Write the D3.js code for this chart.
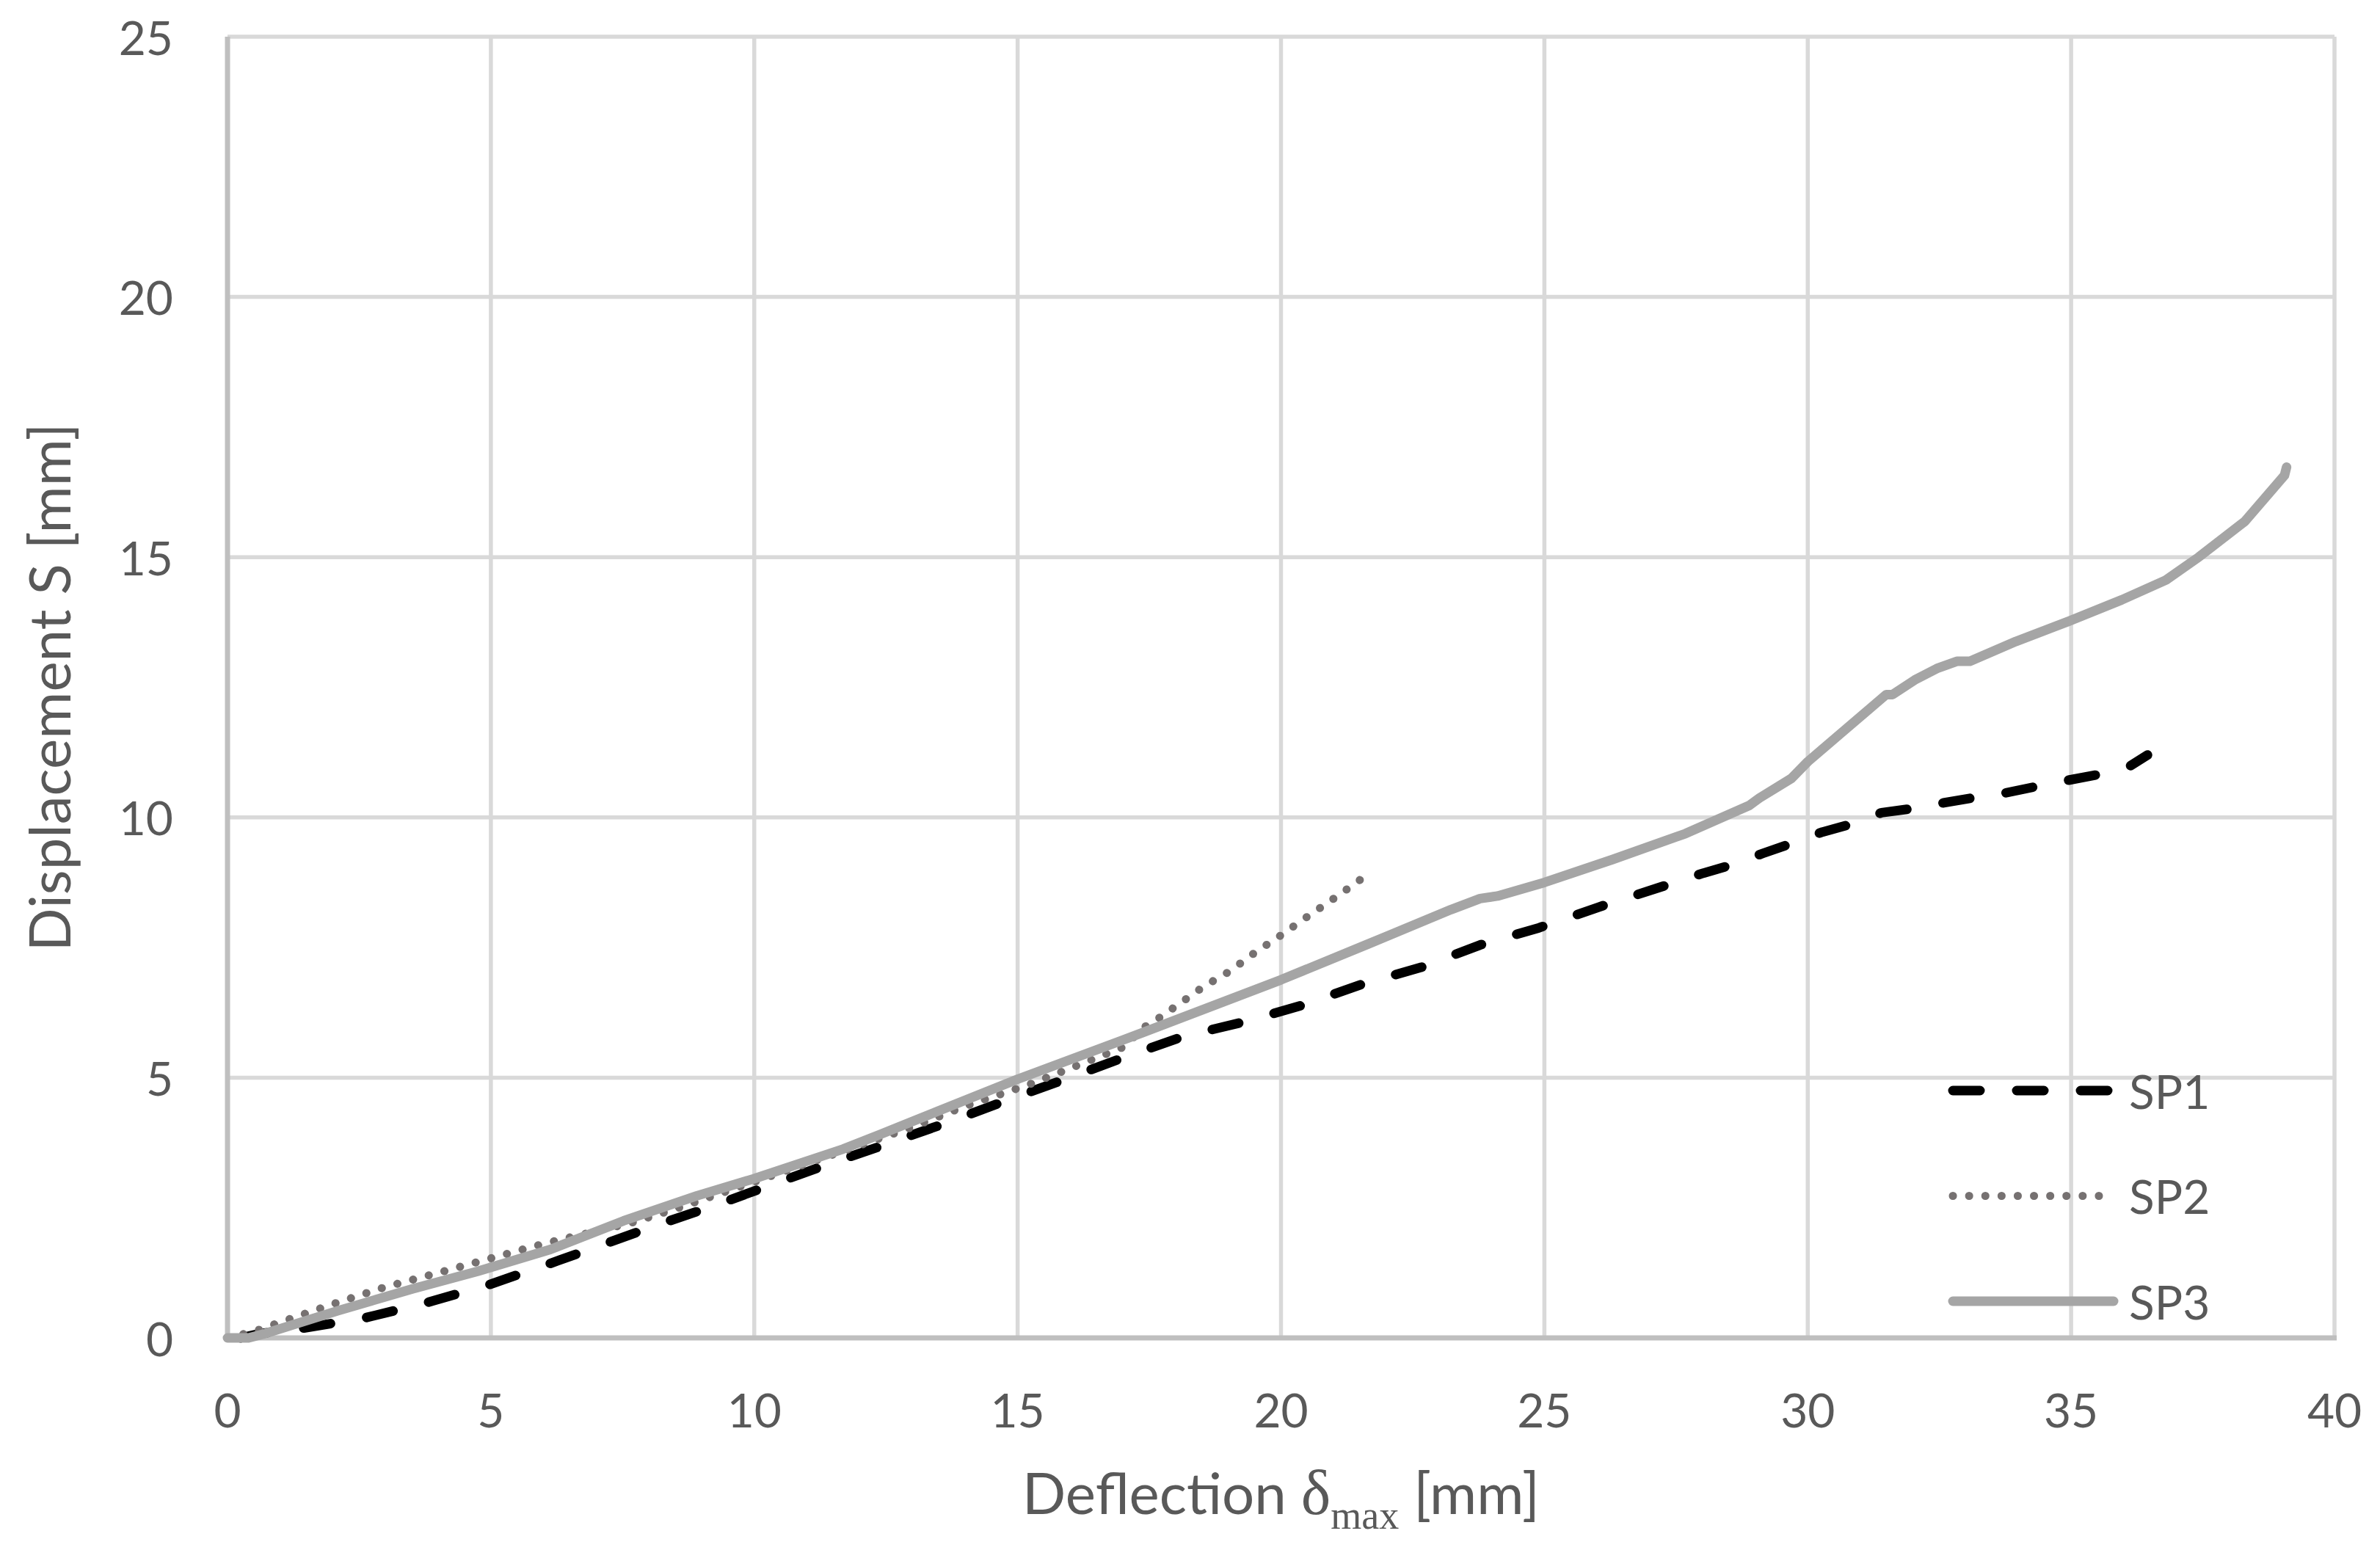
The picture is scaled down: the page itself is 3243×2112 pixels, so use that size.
<!DOCTYPE html>
<html>
  <head>
    <script src="https://d3js.org/d3.v7.min.js"></script>
    <style>
      body { margin: 0; background: #fff; }
      text { font-family: Lato, "Open Sans", sans-serif; fill: #595959; }
    </style>
  </head>
  <body>
    <svg id="chart" width="3243" height="2112"></svg>
    <script>
      // values: [deflection, displacement]
      const sp1 = [[0.25,0],[0.6,0.08],[1.45,0.19],[2.59,0.38],[3.72,0.66],[4.93,1.01],[5.93,1.36],
        [7.04,1.76],[8.13,2.16],[9.24,2.54],[10.32,2.94],[11.41,3.34],[12.5,3.72],[13.7,4.15],[14.81,4.57],
        [15.9,4.97],[17.02,5.39],[18.14,5.79],[19.29,6.07],[20.4,6.39],[21.55,6.8],[22.66,7.12],
        [23.78,7.55],[24.9,7.88],[26.04,8.28],[27.17,8.65],[28.02,8.93],[28.56,9.09],[29.15,9.31],
        [29.69,9.5],[30.28,9.72],[30.82,9.87],[31.4,10.09],[31.99,10.17],[32.58,10.28],[33.16,10.38],
        [33.75,10.47],[34.37,10.6],[34.92,10.71],[35.5,10.82],[36.09,10.97],[36.45,11.2]];
      const sp2 = [[0,0],[0.5,0.12],[1,0.3],[2,0.65],[3,0.98],[4,1.25],[4.75,1.46],[6.04,1.82],
        [7.66,2.21],[8.54,2.49],[10,3.0],[11,3.35],[12,3.7],[13,4.05],[14,4.45],[15.22,4.87],[15.8,5.1],
        [16.4,5.34],[16.99,5.58],[17.42,5.98],[17.66,6.13],[18.1,6.44],[18.53,6.75],[19.02,7.04],
        [19.5,7.4],[19.99,7.73],[20.48,8.08],[20.93,8.39],[21.38,8.71],[21.62,8.89]];
      const sp3 = [[0,0],[0.4,0],[0.67,0.07],[2.09,0.52],[3.51,0.94],[4.75,1.28],[6.13,1.7],[7.52,2.25],
        [8.91,2.73],[10,3.06],[11.69,3.63],[12.39,3.91],[15,4.97],[17.36,5.86],[20,6.88],[21.66,7.57],
        [23.23,8.23],[23.78,8.44],[24.11,8.49],[25,8.75],[26.29,9.19],[27.68,9.69],[28.89,10.23],
        [29.08,10.37],[29.69,10.75],[30,11.07],[30.61,11.6],[31.49,12.36],[31.61,12.36],[32.03,12.64],
        [32.45,12.86],[32.83,13.0],[33.08,13.0],[33.95,13.38],[34.96,13.77],[35.96,14.18],[36.8,14.56],
        [37.42,15.0],[38.3,15.69],[39.05,16.57],[39.09,16.73]];
      const seriesNames = ["SP1", "SP2", "SP3"];
      const xTicks = [0, 5, 10, 15, 20, 25, 30, 35, 40];
      const yTicks = [0, 5, 10, 15, 20, 25];

      const svg = d3.select("#chart");
      const pLeft = 310, pRight = 3181, pTop = 50, pBottom = 1823;
      const x = d3.scaleLinear().domain([0, 40]).range([pLeft, pRight]);
      const y = d3.scaleLinear().domain([0, 25]).range([pBottom, pTop]);

      // grid
      svg.append("g").selectAll("line").data(yTicks.filter(d => d > 0)).join("line")
        .attr("x1", pLeft).attr("x2", pRight)
        .attr("y1", d => y(d)).attr("y2", d => y(d))
        .attr("stroke", "#d9d9d9").attr("stroke-width", 5.5);
      svg.append("g").selectAll("line").data(xTicks.filter(d => d > 0)).join("line")
        .attr("x1", d => x(d)).attr("x2", d => x(d))
        .attr("y1", pTop).attr("y2", pBottom)
        .attr("stroke", "#d9d9d9").attr("stroke-width", 5.5);
      // axis lines
      svg.append("line").attr("x1", x(0)).attr("x2", x(0)).attr("y1", pTop).attr("y2", pBottom + 3)
        .attr("stroke", "#bfbfbf").attr("stroke-width", 7);
      svg.append("line").attr("x1", x(0)).attr("x2", pRight + 3).attr("y1", y(0)).attr("y2", y(0))
        .attr("stroke", "#bfbfbf").attr("stroke-width", 7);

      // tick labels
      svg.append("g").selectAll("text").data(xTicks).join("text")
        .attr("x", d => x(d)).attr("y", 1920)
        .attr("text-anchor", "middle").attr("dominant-baseline", "central")
        .style("font-size", "64px").text(d => d);
      svg.append("g").selectAll("text").data(yTicks).join("text")
        .attr("x", 236).attr("y", d => y(d))
        .attr("text-anchor", "end").attr("dominant-baseline", "central")
        .style("font-size", "64px").text(d => d);

      // axis titles
      const xt = svg.append("text").attr("x", (pLeft + pRight) / 2).attr("y", 2063)
        .attr("text-anchor", "middle").style("font-size", "78px");
      xt.append("tspan").text("Deflection ");
      xt.append("tspan").style("font-family", "'Liberation Serif', serif").style("font-size", "86px").text("δ");
      xt.append("tspan").style("font-family", "'Liberation Serif', serif").style("font-size", "54px")
        .attr("dy", 20).text("max");
      xt.append("tspan").attr("dy", -20).text(" [mm]");
      svg.append("text")
        .attr("transform", `translate(66,${(pTop + pBottom) / 2}) rotate(-90)`)
        .attr("text-anchor", "middle").attr("dominant-baseline", "central")
        .style("font-size", "78px").text("Displacement S [mm]");

      // series
      const line = d3.line().x(d => x(d[0])).y(d => y(d[1]));
      const styles = [
        {stroke: "#000000", width: 13, dash: "37 50"},
        {stroke: "#767171", width: 11, dash: "0.1 22"},
        {stroke: "#a5a5a5", width: 13, dash: null}
      ];
      [sp1, sp2, sp3].forEach((s, i) => {
        svg.append("path").datum(s).attr("d", line)
          .attr("fill", "none").attr("stroke", styles[i].stroke)
          .attr("stroke-width", styles[i].width)
          .attr("stroke-linecap", "round").attr("stroke-linejoin", "round")
          .attr("stroke-dasharray", styles[i].dash);
      });

      // legend
      const legendY = d3.scalePoint().domain(seriesNames).range([1486, 1773]);
      seriesNames.forEach((name, i) => {
        svg.append("line").attr("x1", 2661).attr("x2", 2880)
          .attr("y1", legendY(name)).attr("y2", legendY(name))
          .attr("stroke", styles[i].stroke).attr("stroke-width", styles[i].width)
          .attr("stroke-linecap", "round").attr("stroke-dasharray", styles[i].dash);
        svg.append("text").attr("x", 2901).attr("y", legendY(name))
          .attr("dominant-baseline", "central").style("font-size", "64px").text(name);
      });
    </script>
  </body>
</html>
